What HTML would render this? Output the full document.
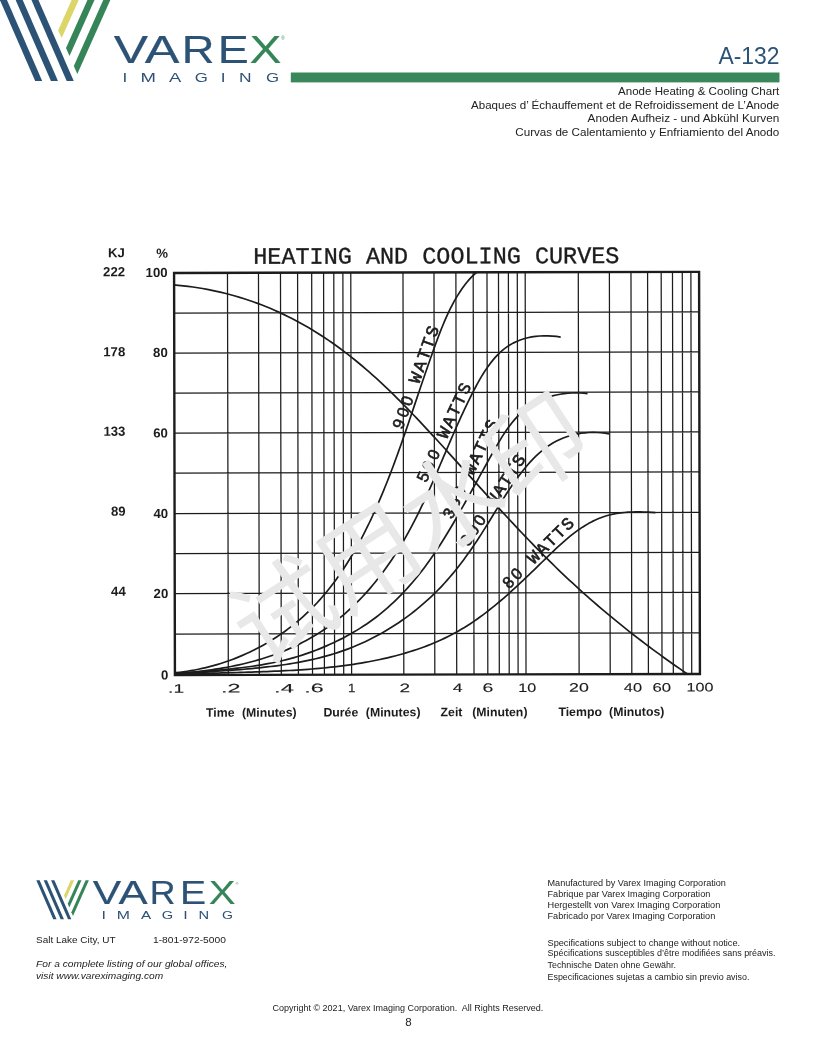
<!DOCTYPE html>
<html lang="en"><head><meta charset="utf-8"><title>A-132 Anode Heating &amp; Cooling Chart</title>
<style>
html,body{margin:0;padding:0;background:#fff}
body{width:816px;height:1056px;overflow:hidden;position:relative;font-family:"Liberation Sans","Noto Sans CJK SC",sans-serif}
svg{position:absolute;left:0;top:0;display:block;will-change:transform}
text{font-family:"Liberation Sans","Noto Sans CJK SC",sans-serif}
.mono{font-family:"Liberation Mono","DejaVu Sans Mono",monospace}
.b{font-weight:bold}
.i{font-style:italic}
</style></head><body>
<svg width="816" height="1056" viewBox="0 0 816 1056">

<g id="header-logo">
<polygon fill="#2c5275" points="-1.07,-2.20 5.98,-2.20 42.21,80.89 35.16,80.89"/>
<polygon fill="#2c5275" points="14.70,-2.20 21.74,-2.20 57.97,80.89 50.92,80.89"/>
<polygon fill="#2c5275" points="30.46,-2.20 37.51,-2.20 73.74,80.89 66.69,80.89"/>
<polygon fill="#dbd667" points="72.62,-2.20 79.67,-2.20 61.69,38.12 58.20,30.13"/>
<polygon fill="#368558" points="88.43,-2.20 95.48,-2.20 69.50,56.04 66.02,48.05"/>
<polygon fill="#368558" points="104.24,-2.20 111.29,-2.20 77.32,73.96 73.83,65.97"/>
<text transform="translate(113.77 62.70) scale(0.5150 0.3924)" font-size="100" fill="#2c5275" stroke="#2c5275" stroke-width="0.6" stroke-linejoin="round">V</text>
<text transform="translate(144.70 62.70) scale(0.5203 0.3924)" font-size="100" fill="#2c5275" stroke="#2c5275" stroke-width="0.6" stroke-linejoin="round">A</text>
<text transform="translate(181.78 62.70) scale(0.4531 0.3924)" font-size="100" fill="#2c5275" stroke="#2c5275" stroke-width="0.6" stroke-linejoin="round">R</text>
<text transform="translate(217.79 62.70) scale(0.4650 0.3924)" font-size="100" fill="#2c5275" stroke="#2c5275" stroke-width="0.6" stroke-linejoin="round">E</text>
<text transform="translate(249.62 62.70) scale(0.4795 0.3924)" font-size="100" fill="#368558" stroke="#368558" stroke-width="0.6" stroke-linejoin="round">X</text>
<text x="283" y="40" font-size="4.5" fill="#368558" text-anchor="middle">®</text>
<text transform="translate(122.52 82.20) scale(0.1716 0.1352)" font-size="100" fill="#2c5275" >I</text>
<text transform="translate(140.38 82.20) scale(0.1854 0.1352)" font-size="100" fill="#2c5275" >M</text>
<text transform="translate(168.96 82.20) scale(0.1840 0.1352)" font-size="100" fill="#2c5275" >A</text>
<text transform="translate(194.65 82.20) scale(0.1685 0.1332)" font-size="100" fill="#2c5275" >G</text>
<text transform="translate(220.72 82.20) scale(0.1716 0.1352)" font-size="100" fill="#2c5275" >I</text>
<text transform="translate(238.88 82.20) scale(0.1737 0.1352)" font-size="100" fill="#2c5275" >N</text>
<text transform="translate(265.95 82.20) scale(0.1685 0.1332)" font-size="100" fill="#2c5275" >G</text>
</g>
<rect x="290.8" y="72.5" width="488.7" height="9.9" fill="#3a875b"/>
<text x="779.5" y="63.8" font-size="24" fill="#2c5275" text-anchor="end" textLength="61" lengthAdjust="spacingAndGlyphs" >A-132</text>
<text x="618" y="95.4" font-size="11.2" fill="#222" textLength="161.3" lengthAdjust="spacingAndGlyphs">Anode Heating &amp; Cooling Chart</text>
<text x="471" y="108.7" font-size="11.2" fill="#222" textLength="308.3" lengthAdjust="spacingAndGlyphs">Abaques d’ Échauffement et de Refroidissement de L’Anode</text>
<text x="587.6" y="122.3" font-size="11.2" fill="#222" textLength="191.7" lengthAdjust="spacingAndGlyphs">Anoden Aufheiz - und Abkühl Kurven</text>
<text x="515.3" y="135.6" font-size="11.2" fill="#222" textLength="264.0" lengthAdjust="spacingAndGlyphs">Curvas de Calentamiento y Enfriamiento del Anodo</text>
<g transform="rotate(-0.12 437 473)">
<g id="chart" fill="none" stroke="#1c1c1c">
<path stroke-width="1.25" d="M227.90 272.4V674.5M258.90 272.4V674.5M280.90 272.4V674.5M298.00 272.4V674.5M312.10 272.4V674.5M324.00 272.4V674.5M334.20 272.4V674.5M343.30 272.4V674.5M351.20 272.4V674.5M403.40 272.4V674.5M434.40 272.4V674.5M456.30 272.4V674.5M473.60 272.4V674.5M487.40 272.4V674.5M498.90 272.4V674.5M508.80 272.4V674.5M517.70 272.4V674.5M525.60 272.4V674.5M578.70 272.4V674.5M609.80 272.4V674.5M631.40 272.4V674.5M648.00 272.4V674.5M661.60 272.4V674.5M672.90 272.4V674.5M682.70 272.4V674.5M691.30 272.4V674.5M174.5 633.5H699.5M174.5 593H699.5M174.5 553H699.5M174.5 513H699.5M174.5 472.5H699.5M174.5 432.5H699.5M174.5 392.5H699.5M174.5 352.5H699.5M174.5 312.5H699.5"/>
<rect x="174.5" y="272.4" width="525.00" height="402.10" stroke-width="2.4"/>
<path id="cool" stroke-width="1.7" stroke-linejoin="round" d="M173.88 284.33L178.79 284.77L183.66 285.27L188.51 285.85L193.34 286.51L198.13 287.23L202.90 288.03L207.64 288.90L212.36 289.84L217.04 290.85L221.70 291.93L226.33 293.08L230.93 294.29L235.51 295.58L240.05 296.93L244.57 298.35L249.05 299.84L253.51 301.39L257.94 303.01L262.34 304.69L266.71 306.43L271.05 308.24L275.36 310.12L279.63 312.05L283.88 314.05L288.10 316.11L292.29 318.22L296.44 320.40L300.57 322.64L304.66 324.94L308.72 327.29L312.75 329.70L316.75 332.17L320.71 334.69L324.64 337.26L328.54 339.89L332.41 342.56L336.25 345.28L340.05 348.05L343.82 350.87L347.55 353.74L351.25 356.64L354.92 359.59L358.56 362.58L362.18 365.61L365.76 368.68L369.31 371.78L372.84 374.92L376.35 378.09L379.82 381.29L383.28 384.52L386.71 387.78L390.12 391.07L393.51 394.38L396.88 397.72L400.23 401.08L403.57 404.46L406.88 407.85L410.18 411.27L413.47 414.70L416.74 418.15L420.00 421.61L423.25 425.08L426.48 428.56L429.71 432.05L432.92 435.54L436.13 439.04L439.33 442.55L442.53 446.06L445.72 449.57L448.90 453.08L452.08 456.60L455.25 460.12L458.42 463.64L461.59 467.16L464.75 470.68L467.92 474.19L471.08 477.71L474.24 481.23L477.41 484.74L480.57 488.25L483.74 491.76L486.90 495.26L490.08 498.76L493.25 502.26L496.43 505.75L499.61 509.23L502.80 512.71L506.00 516.18L509.20 519.64L512.41 523.09L515.63 526.54L518.85 529.97L522.09 533.40L525.34 536.82L528.59 540.22L531.86 543.62L535.14 547.00L538.44 550.37L541.74 553.73L545.06 557.07L548.40 560.40L551.75 563.71L555.11 567.01L558.49 570.30L561.89 573.57L565.31 576.82L568.75 580.05L572.20 583.27L575.67 586.47L579.16 589.66L582.66 592.82L586.18 595.97L589.72 599.11L593.27 602.23L596.84 605.32L600.43 608.41L604.03 611.47L607.65 614.52L611.29 617.55L614.94 620.57L618.61 623.56L622.29 626.54L625.98 629.51L629.70 632.45L633.42 635.38L637.16 638.29L640.92 641.18L644.69 644.06L648.47 646.92L652.27 649.76L656.08 652.58L659.91 655.39L663.75 658.18L667.60 660.95L671.47 663.70L675.35 666.43L679.24 669.15L683.14 671.85L687.06 674.53"/>
<path id="w900" stroke-width="1.7" stroke-linejoin="round" d="M175.51 672.09L179.26 671.71L183.01 671.26L186.77 670.74L190.52 670.14L194.27 669.49L198.02 668.76L201.76 667.96L205.50 667.10L209.22 666.18L212.94 665.19L216.64 664.13L220.33 663.01L224.00 661.83L227.66 660.59L231.29 659.28L234.90 657.91L238.49 656.48L242.05 654.99L245.59 653.44L249.10 651.83L252.58 650.16L256.02 648.44L259.43 646.65L262.81 644.81L266.14 642.92L269.44 640.97L272.71 638.96L275.93 636.90L279.12 634.79L282.26 632.62L285.37 630.40L288.43 628.13L291.45 625.81L294.43 623.44L297.37 621.01L300.26 618.54L303.11 616.02L305.92 613.45L308.67 610.84L311.38 608.17L314.05 605.46L316.66 602.71L319.24 599.91L321.76 597.07L324.24 594.18L326.68 591.26L329.07 588.30L331.43 585.30L333.74 582.26L336.01 579.19L338.24 576.09L340.43 572.95L342.58 569.78L344.70 566.58L346.77 563.35L348.82 560.10L350.82 556.82L352.79 553.51L354.73 550.18L356.64 546.83L358.51 543.46L360.35 540.07L362.16 536.66L363.94 533.23L365.69 529.79L367.41 526.33L369.11 522.86L370.77 519.38L372.41 515.88L374.03 512.38L375.62 508.87L377.19 505.35L378.73 501.83L380.25 498.30L381.75 494.76L383.23 491.23L384.69 487.69L386.13 484.14L387.55 480.59L388.95 477.04L390.34 473.48L391.71 469.92L393.06 466.36L394.41 462.79L395.73 459.22L397.05 455.65L398.35 452.07L399.64 448.49L400.93 444.91L402.20 441.32L403.46 437.73L404.72 434.14L405.97 430.55L407.21 426.95L408.45 423.35L409.68 419.75L410.91 416.15L412.14 412.55L413.37 408.94L414.59 405.33L415.81 401.72L417.04 398.10L418.26 394.49L419.49 390.87L420.72 387.26L421.95 383.64L423.19 380.02L424.44 376.40L425.69 372.78L426.94 369.15L428.21 365.53L429.48 361.90L430.77 358.28L432.06 354.65L433.36 351.03L434.68 347.40L436.01 343.77L437.35 340.15L438.71 336.52L440.10 332.91L441.52 329.32L442.97 325.73L444.46 322.17L445.99 318.64L447.58 315.14L449.21 311.66L450.90 308.23L452.66 304.84L454.48 301.49L456.37 298.19L458.34 294.94L460.39 291.76L462.53 288.63L464.76 285.57L467.09 282.58L469.52 279.70L472.08 276.95L474.77 274.36L477.60 271.97"/>
<path id="w500" stroke-width="1.7" stroke-linejoin="round" d="M175.59 672.86L179.50 672.60L183.43 672.30L187.35 671.98L191.29 671.62L195.23 671.23L199.17 670.81L203.12 670.35L207.07 669.86L211.02 669.32L214.97 668.75L218.91 668.14L222.85 667.48L226.79 666.79L230.72 666.04L234.64 665.26L238.55 664.43L242.45 663.55L246.34 662.62L250.21 661.64L254.07 660.61L257.92 659.53L261.75 658.39L265.56 657.20L269.35 655.96L273.11 654.65L276.86 653.29L280.58 651.87L284.28 650.39L287.95 648.84L291.59 647.24L295.20 645.57L298.78 643.83L302.34 642.04L305.85 640.18L309.34 638.26L312.78 636.27L316.19 634.23L319.56 632.12L322.89 629.96L326.18 627.73L329.43 625.44L332.64 623.10L335.79 620.69L338.91 618.23L341.98 615.71L345.00 613.13L347.97 610.50L350.91 607.82L353.79 605.08L356.64 602.30L359.43 599.47L362.19 596.60L364.90 593.68L367.57 590.72L370.19 587.71L372.78 584.67L375.32 581.59L377.81 578.47L380.27 575.32L382.68 572.13L385.06 568.91L387.39 565.66L389.68 562.38L391.93 559.08L394.14 555.75L396.31 552.39L398.44 549.02L400.53 545.62L402.58 542.20L404.59 538.77L406.56 535.32L408.50 531.85L410.40 528.37L412.27 524.87L414.11 521.36L415.91 517.83L417.69 514.29L419.45 510.74L421.18 507.18L422.88 503.61L424.57 500.03L426.23 496.44L427.88 492.83L429.51 489.22L431.13 485.61L432.73 481.98L434.33 478.35L435.91 474.72L437.49 471.07L439.06 467.43L440.63 463.78L442.20 460.12L443.76 456.47L445.33 452.81L446.90 449.15L448.47 445.49L450.05 441.83L451.64 438.17L453.24 434.51L454.85 430.85L456.47 427.20L458.11 423.54L459.76 419.90L461.43 416.25L463.13 412.61L464.84 408.98L466.58 405.35L468.34 401.73L470.13 398.12L471.95 394.51L473.80 390.92L475.68 387.33L477.61 383.78L479.58 380.25L481.61 376.77L483.71 373.35L485.88 370.00L488.14 366.73L490.48 363.55L492.92 360.48L495.47 357.53L498.13 354.72L500.91 352.06L503.83 349.57L506.88 347.27L510.07 345.18L513.41 343.29L516.89 341.62L520.49 340.17L524.20 338.93L528.02 337.93L531.93 337.14L535.92 336.56L539.98 336.20L544.11 336.04L548.28 336.07L552.49 336.30L556.72 336.71L560.98 337.30"/>
<path id="w350" stroke-width="1.7" stroke-linejoin="round" d="M175.41 673.39L179.22 673.03L183.04 672.69L186.86 672.35L190.69 672.03L194.53 671.70L198.37 671.38L202.21 671.06L206.06 670.74L209.91 670.41L213.77 670.08L217.62 669.74L221.47 669.38L225.33 669.01L229.18 668.63L233.03 668.22L236.87 667.80L240.72 667.35L244.55 666.87L248.39 666.37L252.21 665.84L256.03 665.27L259.84 664.67L263.64 664.03L267.43 663.35L271.21 662.63L274.98 661.87L278.74 661.05L282.49 660.19L286.22 659.28L289.94 658.31L293.64 657.28L297.32 656.20L300.99 655.07L304.64 653.88L308.27 652.63L311.89 651.34L315.48 649.99L319.05 648.59L322.60 647.14L326.13 645.65L329.63 644.10L333.11 642.50L336.56 640.86L339.99 639.17L343.39 637.44L346.77 635.65L350.11 633.81L353.43 631.91L356.72 629.97L359.97 627.96L363.19 625.90L366.39 623.79L369.54 621.61L372.67 619.37L375.76 617.07L378.81 614.70L381.83 612.27L384.81 609.78L387.75 607.24L390.65 604.63L393.52 601.98L396.34 599.28L399.12 596.53L401.86 593.73L404.55 590.90L407.21 588.03L409.81 585.13L412.37 582.19L414.89 579.23L417.36 576.24L419.78 573.23L422.16 570.19L424.49 567.14L426.78 564.06L429.03 560.97L431.24 557.85L433.41 554.72L435.56 551.57L437.67 548.40L439.75 545.21L441.80 542.01L443.83 538.80L445.84 535.56L447.82 532.32L449.79 529.06L451.74 525.78L453.67 522.50L455.59 519.20L457.50 515.89L459.40 512.57L461.30 509.24L463.19 505.90L465.08 502.55L466.96 499.20L468.84 495.83L470.72 492.46L472.60 489.09L474.48 485.70L476.36 482.32L478.24 478.92L480.13 475.53L482.01 472.13L483.90 468.72L485.79 465.32L487.69 461.91L489.59 458.51L491.50 455.10L493.42 451.70L495.35 448.30L497.31 444.93L499.29 441.59L501.32 438.29L503.39 435.03L505.51 431.84L507.69 428.71L509.95 425.66L512.28 422.70L514.69 419.83L517.20 417.07L519.80 414.43L522.51 411.91L525.34 409.52L528.29 407.28L531.37 405.19L534.58 403.26L537.94 401.51L541.43 399.92L545.03 398.51L548.74 397.26L552.52 396.19L556.38 395.28L560.28 394.53L564.22 393.96L568.18 393.55L572.15 393.30L576.10 393.21L580.03 393.29L583.91 393.52L587.74 393.92"/>
<path id="w300" stroke-width="1.7" stroke-linejoin="round" d="M175.56 673.92L179.27 673.59L182.99 673.27L186.72 672.97L190.46 672.68L194.21 672.40L197.97 672.12L201.74 671.85L205.52 671.59L209.31 671.32L213.10 671.06L216.89 670.80L220.70 670.54L224.50 670.27L228.31 670.00L232.13 669.72L235.94 669.43L239.76 669.13L243.58 668.82L247.40 668.49L251.22 668.16L255.03 667.80L258.85 667.42L262.66 667.03L266.47 666.61L270.27 666.17L274.07 665.71L277.86 665.22L281.65 664.70L285.43 664.15L289.20 663.56L292.96 662.95L296.72 662.30L300.46 661.62L304.19 660.89L307.91 660.13L311.62 659.32L315.32 658.48L319.00 657.59L322.67 656.65L326.33 655.66L329.97 654.63L333.59 653.54L337.19 652.40L340.78 651.21L344.35 649.96L347.90 648.65L351.42 647.29L354.93 645.87L358.42 644.39L361.88 642.86L365.33 641.28L368.74 639.64L372.14 637.95L375.50 636.21L378.85 634.42L382.16 632.57L385.45 630.67L388.71 628.73L391.95 626.73L395.15 624.68L398.32 622.59L401.46 620.45L404.57 618.26L407.65 616.03L410.70 613.75L413.71 611.42L416.69 609.05L419.63 606.63L422.54 604.18L425.41 601.68L428.24 599.13L431.03 596.55L433.79 593.92L436.50 591.25L439.18 588.55L441.82 585.80L444.41 583.01L446.96 580.19L449.47 577.33L451.94 574.44L454.37 571.51L456.77 568.55L459.12 565.56L461.44 562.54L463.73 559.50L465.99 556.43L468.22 553.34L470.41 550.23L472.58 547.10L474.72 543.95L476.84 540.79L478.93 537.61L480.99 534.43L483.04 531.23L485.07 528.02L487.08 524.81L489.08 521.59L491.07 518.37L493.06 515.14L495.05 511.92L497.04 508.70L499.05 505.49L501.07 502.28L503.10 499.07L505.15 495.88L507.23 492.70L509.35 489.53L511.49 486.37L513.67 483.24L515.90 480.12L518.16 477.01L520.48 473.94L522.86 470.90L525.29 467.91L527.77 464.98L530.33 462.11L532.94 459.33L535.63 456.64L538.38 454.05L541.21 451.58L544.12 449.23L547.12 447.01L550.19 444.95L553.35 443.03L556.60 441.28L559.92 439.68L563.32 438.24L566.79 436.97L570.34 435.86L573.95 434.92L577.63 434.14L581.37 433.53L585.18 433.10L589.04 432.84L592.95 432.75L596.92 432.84L600.93 433.11L604.99 433.56L609.10 434.20"/>
<path id="w80" stroke-width="1.7" stroke-linejoin="round" d="M175.40 674.40L179.26 674.18L183.11 673.98L186.96 673.78L190.80 673.60L194.63 673.43L198.45 673.28L202.27 673.13L206.08 672.99L209.89 672.86L213.69 672.73L217.48 672.62L221.27 672.50L225.06 672.39L228.84 672.28L232.62 672.18L236.39 672.08L240.16 671.97L243.92 671.87L247.69 671.76L251.45 671.65L255.21 671.54L258.96 671.42L262.72 671.30L266.47 671.17L270.22 671.03L273.97 670.88L277.72 670.73L281.48 670.56L285.23 670.38L288.98 670.19L292.73 669.99L296.49 669.77L300.24 669.53L304.00 669.28L307.76 669.02L311.52 668.73L315.28 668.43L319.05 668.10L322.82 667.75L326.60 667.39L330.38 666.99L334.16 666.58L337.95 666.14L341.74 665.67L345.53 665.18L349.33 664.66L353.12 664.11L356.91 663.53L360.70 662.92L364.49 662.28L368.27 661.60L372.04 660.89L375.81 660.15L379.57 659.37L383.32 658.55L387.06 657.70L390.79 656.81L394.50 655.88L398.20 654.91L401.88 653.90L405.55 652.84L409.20 651.74L412.83 650.60L416.44 649.41L420.02 648.18L423.59 646.90L427.13 645.57L430.64 644.19L434.13 642.76L437.59 641.28L441.02 639.75L444.43 638.16L447.80 636.53L451.14 634.83L454.44 633.08L457.71 631.28L460.94 629.41L464.15 627.50L467.31 625.52L470.45 623.50L473.55 621.43L476.63 619.31L479.68 617.14L482.70 614.93L485.69 612.68L488.66 610.39L491.61 608.06L494.54 605.70L497.45 603.30L500.33 600.87L503.20 598.42L506.06 595.93L508.90 593.42L511.72 590.88L514.53 588.32L517.33 585.75L520.12 583.15L522.90 580.54L525.67 577.91L528.44 575.28L531.20 572.63L533.96 569.97L536.72 567.31L539.47 564.65L542.22 561.98L544.98 559.31L547.74 556.64L550.50 553.99L553.27 551.34L556.06 548.72L558.86 546.13L561.68 543.58L564.53 541.07L567.41 538.62L570.32 536.24L573.27 533.92L576.25 531.68L579.28 529.53L582.36 527.47L585.49 525.52L588.68 523.68L591.93 521.96L595.24 520.36L598.62 518.90L602.07 517.58L605.60 516.41L609.21 515.40L612.90 514.55L616.66 513.86L620.48 513.32L624.34 512.91L628.23 512.62L632.15 512.44L636.07 512.37L639.98 512.38L643.88 512.48L647.74 512.64L651.56 512.86L655.32 513.12"/>
</g>
<g fill="#1c1c1c">
<text class="mono" x="253.7" y="263.4" font-size="23.5" textLength="366.2" lengthAdjust="spacing" stroke="#1c1c1c" stroke-width="0.35">HEATING AND COOLING CURVES</text>
<text class="b" x="108.4" y="256.6" font-size="13.2">KJ</text>
<text class="b" x="156.6" y="257.1" font-size="13.2">%</text>
<text class="b" x="125.5" y="275.6" font-size="13.2" text-anchor="end">222</text>
<text class="b" x="125.5" y="355.6" font-size="13.2" text-anchor="end">178</text>
<text class="b" x="125.5" y="435.1" font-size="13.2" text-anchor="end">133</text>
<text class="b" x="125.5" y="515.1" font-size="13.2" text-anchor="end">89</text>
<text class="b" x="125.5" y="595.1" font-size="13.2" text-anchor="end">44</text>
<text class="b" x="168" y="276.4" font-size="13.2" text-anchor="end">100</text>
<text class="b" x="168" y="356.5" font-size="13.2" text-anchor="end">80</text>
<text class="b" x="168" y="437.0" font-size="13.2" text-anchor="end">60</text>
<text class="b" x="168" y="517.5" font-size="13.2" text-anchor="end">40</text>
<text class="b" x="168" y="597.5" font-size="13.2" text-anchor="end">20</text>
<text class="b" x="168" y="679.0" font-size="13.2" text-anchor="end">0</text>
<text transform="translate(167.64 692.1) scale(1.557 1)" font-size="12.4" stroke="#1c1c1c" stroke-width="0.12">.1</text>
<text transform="translate(220.46 692.1) scale(1.887 1)" font-size="12.4" stroke="#1c1c1c" stroke-width="0.12">.2</text>
<text transform="translate(273.64 692.1) scale(1.911 1)" font-size="12.4" stroke="#1c1c1c" stroke-width="0.12">.4</text>
<text transform="translate(303.88 692.1) scale(1.870 1)" font-size="12.4" stroke="#1c1c1c" stroke-width="0.12">.6</text>
<text transform="translate(347.58 692.1) scale(1.085 1)" font-size="12.4" stroke="#1c1c1c" stroke-width="0.12">1</text>
<text transform="translate(399.04 692.1) scale(1.540 1)" font-size="12.4" stroke="#1c1c1c" stroke-width="0.12">2</text>
<text transform="translate(452.39 692.1) scale(1.440 1)" font-size="12.4" stroke="#1c1c1c" stroke-width="0.12">4</text>
<text transform="translate(482.01 692.1) scale(1.573 1)" font-size="12.4" stroke="#1c1c1c" stroke-width="0.12">6</text>
<text transform="translate(517.87 692.1) scale(1.302 1)" font-size="12.4" stroke="#1c1c1c" stroke-width="0.12">10</text>
<text transform="translate(568.61 692.1) scale(1.435 1)" font-size="12.4" stroke="#1c1c1c" stroke-width="0.12">20</text>
<text transform="translate(623.32 692.1) scale(1.321 1)" font-size="12.4" stroke="#1c1c1c" stroke-width="0.12">40</text>
<text transform="translate(652.05 692.1) scale(1.349 1)" font-size="12.4" stroke="#1c1c1c" stroke-width="0.12">60</text>
<text transform="translate(685.97 692.1) scale(1.303 1)" font-size="12.4" stroke="#1c1c1c" stroke-width="0.12">100</text>
<text class="b" x="205.5" y="716.3" font-size="12.3" word-spacing="4.04">Time (Minutes)</text>
<text class="b" x="322.9" y="716.3" font-size="12.3" word-spacing="4.16">Durée (Minutes)</text>
<text class="b" x="440.1" y="716.3" font-size="12.3" word-spacing="6.28">Zeit (Minuten)</text>
<text class="b" x="557.9" y="716.3" font-size="12.3" word-spacing="3.74">Tiempo (Minutos)</text>
</g>
<text class="mono" transform="translate(398.75 423.75) rotate(-69.95)" x="0.00 12.31 24.62 36.92 49.23 61.54 73.85 86.16 98.46" y="5.70" text-anchor="middle" font-size="17.30" fill="#1c1c1c" stroke="#1c1c1c" stroke-width="0.62"><tspan font-size="16.29" style="font-family:'Liberation Sans',sans-serif">900</tspan> WATTS</text>
<text class="mono" transform="translate(423.1 476.6) rotate(-64.83)" x="0.00 12.17 24.34 36.50 48.67 60.84 73.01 85.17 97.34" y="5.70" text-anchor="middle" font-size="17.30" fill="#1c1c1c" stroke="#1c1c1c" stroke-width="0.62"><tspan font-size="16.29" style="font-family:'Liberation Sans',sans-serif">500</tspan> WATTS</text>
<text class="mono" transform="translate(449 513.3) rotate(-64.48)" x="0.00 12.22 24.43 36.65 48.87 61.08 73.30 85.52 97.73" y="5.70" text-anchor="middle" font-size="17.30" fill="#1c1c1c" stroke="#1c1c1c" stroke-width="0.62"><tspan font-size="16.29" style="font-family:'Liberation Sans',sans-serif">350</tspan> WATTS</text>
<text class="mono" transform="translate(466.4 540.1) rotate(-56.73)" x="0.00 11.92 23.83 35.75 47.66 59.58 71.50 83.41 95.33" y="5.70" text-anchor="middle" font-size="17.30" fill="#1c1c1c" stroke="#1c1c1c" stroke-width="0.62"><tspan font-size="16.29" style="font-family:'Liberation Sans',sans-serif">300</tspan> WATTS</text>
<text class="mono" transform="translate(507.9 582.3) rotate(-44.42)" x="0.00 11.88 23.76 35.64 47.52 59.40 71.28 83.16" y="5.70" text-anchor="middle" font-size="17.30" fill="#1c1c1c" stroke="#1c1c1c" stroke-width="0.62"><tspan font-size="16.29" style="font-family:'Liberation Sans',sans-serif">80</tspan> WATTS</text>
</g>
<text x="0" y="33.8" font-size="100.4" fill="#e8e8e8" text-anchor="middle" transform="translate(410.7 531.5) rotate(-33.2)" style="font-family:'Noto Sans CJK SC','WenQuanYi Zen Hei',sans-serif">试用水印</text>
<g id="footer-logo">
<polygon fill="#2c5275" points="36.30,880.30 39.60,880.30 56.56,919.20 53.26,919.20"/>
<polygon fill="#2c5275" points="43.68,880.30 46.98,880.30 63.94,919.20 60.64,919.20"/>
<polygon fill="#2c5275" points="51.06,880.30 54.36,880.30 71.32,919.20 68.02,919.20"/>
<polygon fill="#dbd667" points="70.80,880.30 74.10,880.30 65.68,899.18 64.05,895.44"/>
<polygon fill="#368558" points="78.20,880.30 81.50,880.30 69.34,907.57 67.71,903.83"/>
<polygon fill="#368558" points="85.60,880.30 88.90,880.30 73.00,915.96 71.37,912.22"/>
<text transform="translate(92.81 903.60) scale(0.4269 0.3285)" font-size="100" fill="#2c5275" stroke="#2c5275" stroke-width="0.6" stroke-linejoin="round">V</text>
<text transform="translate(118.41 903.60) scale(0.4373 0.3285)" font-size="100" fill="#2c5275" stroke="#2c5275" stroke-width="0.6" stroke-linejoin="round">A</text>
<text transform="translate(149.87 903.60) scale(0.3571 0.3285)" font-size="100" fill="#2c5275" stroke="#2c5275" stroke-width="0.6" stroke-linejoin="round">R</text>
<text transform="translate(179.99 903.60) scale(0.3911 0.3285)" font-size="100" fill="#2c5275" stroke="#2c5275" stroke-width="0.6" stroke-linejoin="round">E</text>
<text transform="translate(208.80 903.60) scale(0.4025 0.3285)" font-size="100" fill="#368558" stroke="#368558" stroke-width="0.6" stroke-linejoin="round">X</text>
<text x="237" y="884.5" font-size="4" fill="#368558" text-anchor="middle">®</text>
<text transform="translate(101.62 919.40) scale(0.1608 0.1047)" font-size="100" fill="#2c5275" >I</text>
<text transform="translate(116.70 919.40) scale(0.1585 0.1047)" font-size="100" fill="#2c5275" >M</text>
<text transform="translate(140.97 919.40) scale(0.1523 0.1047)" font-size="100" fill="#2c5275" >A</text>
<text transform="translate(161.86 919.40) scale(0.1471 0.1031)" font-size="100" fill="#2c5275" >G</text>
<text transform="translate(183.32 919.40) scale(0.1608 0.1047)" font-size="100" fill="#2c5275" >I</text>
<text transform="translate(198.60 919.40) scale(0.1468 0.1047)" font-size="100" fill="#2c5275" >N</text>
<text transform="translate(222.09 919.40) scale(0.1409 0.1031)" font-size="100" fill="#2c5275" >G</text>
</g>
<text class="" style="white-space:pre" x="36" y="943" font-size="9" fill="#222" textLength="79.6" lengthAdjust="spacingAndGlyphs">Salt Lake City, UT</text>
<text class="" style="white-space:pre" x="153" y="943" font-size="9" fill="#222" textLength="72.9" lengthAdjust="spacingAndGlyphs">1-801-972-5000</text>
<text class="i" style="white-space:pre" x="36" y="967" font-size="9" fill="#222" textLength="191.4" lengthAdjust="spacingAndGlyphs">For a complete listing of our global offices,</text>
<text class="i" style="white-space:pre" x="36" y="978.8" font-size="9" fill="#222" textLength="127.2" lengthAdjust="spacingAndGlyphs">visit www.vareximaging.com</text>
<text class="" style="white-space:pre" x="547.5" y="885.7" font-size="8.8" fill="#222" textLength="178.4" lengthAdjust="spacingAndGlyphs">Manufactured by Varex Imaging Corporation</text>
<text class="" style="white-space:pre" x="547.5" y="896.9" font-size="8.8" fill="#222" textLength="162.8" lengthAdjust="spacingAndGlyphs">Fabrique par Varex Imaging Corporation</text>
<text class="" style="white-space:pre" x="547.5" y="907.9" font-size="8.8" fill="#222" textLength="172.8" lengthAdjust="spacingAndGlyphs">Hergestellt von Varex Imaging Corporation</text>
<text class="" style="white-space:pre" x="547.5" y="918.7" font-size="8.8" fill="#222" textLength="167.8" lengthAdjust="spacingAndGlyphs">Fabricado por Varex Imaging Corporation</text>
<text class="" style="white-space:pre" x="547.5" y="945.5" font-size="8.8" fill="#222" textLength="192.6" lengthAdjust="spacingAndGlyphs">Specifications subject to change without notice.</text>
<text class="" style="white-space:pre" x="547.5" y="956.3" font-size="8.8" fill="#222" textLength="228.0" lengthAdjust="spacingAndGlyphs">Spécifications susceptibles d’être modifiées sans préavis.</text>
<text class="" style="white-space:pre" x="547.5" y="967.5" font-size="8.8" fill="#222" textLength="128.4" lengthAdjust="spacingAndGlyphs">Technische Daten ohne Gewähr.</text>
<text class="" style="white-space:pre" x="547.5" y="979.8" font-size="8.8" fill="#222" textLength="201.9" lengthAdjust="spacingAndGlyphs">Especificaciones sujetas a cambio sin previo aviso.</text>
<text class="" style="white-space:pre" x="272.4" y="1010.8" font-size="8.7" fill="#222" textLength="270.9" lengthAdjust="spacingAndGlyphs">Copyright © 2021, Varex Imaging Corporation.  All Rights Reserved.</text>
<text x="408.4" y="1026.3" font-size="11.5" fill="#222" text-anchor="middle">8</text>
</svg></body></html>
